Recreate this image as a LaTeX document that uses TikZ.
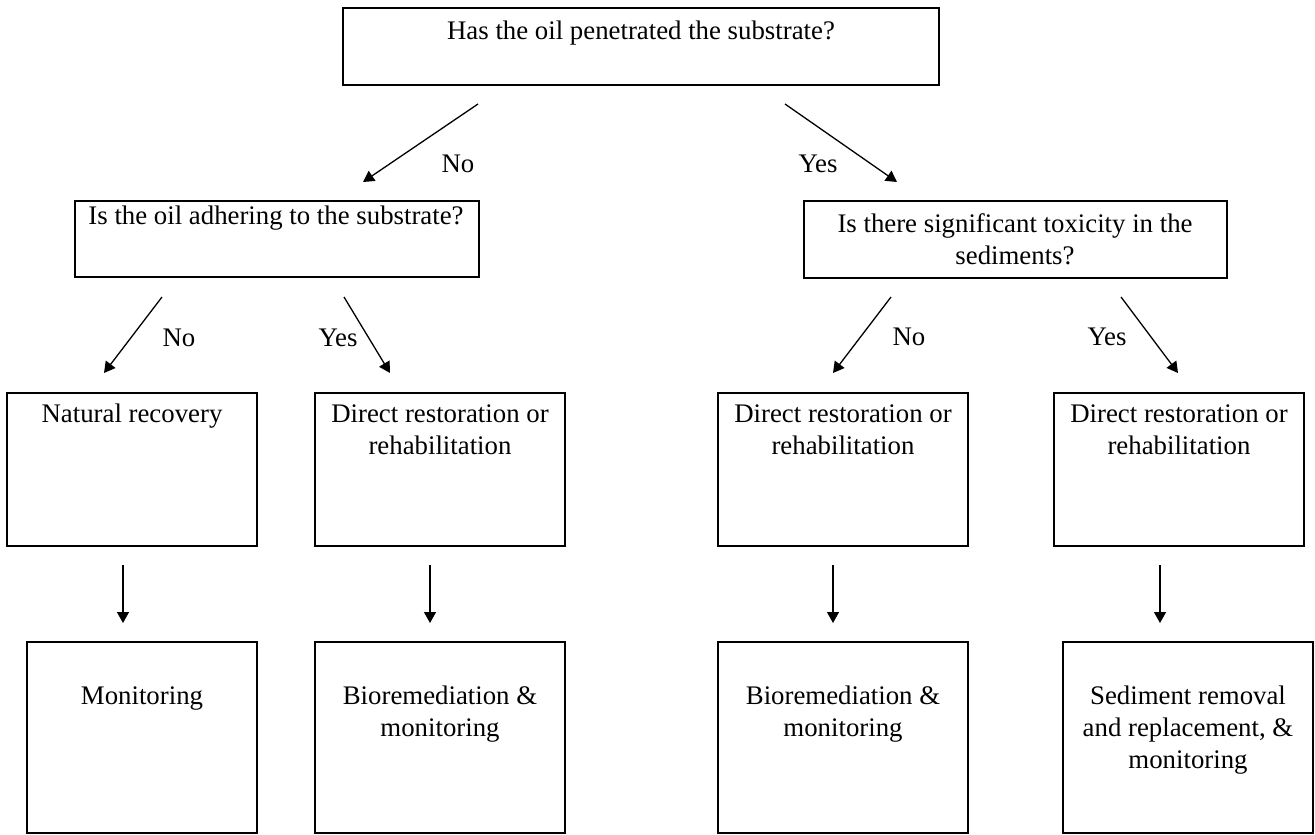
\documentclass[tikz,border=0pt]{standalone}
\usepackage{fontspec}
\setmainfont{Liberation Serif}
\usetikzlibrary{arrows.meta}
% fixed height for the first line, so a node's top edge sits 24pt above its first baseline
\newcommand\firstline{\rule{0pt}{24pt}}
\begin{document}
\begin{tikzpicture}[x=1pt,y=-1pt,
  box/.style={draw, line width=1.4pt, inner sep=0pt},
  txt/.style={inner sep=0pt, align=center, font=\fontsize{26.8}{32}\selectfont, anchor=north},
  flow/.style={line width=1.3pt, -{Triangle[length=11pt,width=12pt]}},
]
\useasboundingbox (0,0) rectangle (1315,835);

% question boxes
\node[box, minimum width=596pt, minimum height=77pt] (q1) at (641,46.5) {};
\node[box, minimum width=404pt, minimum height=76pt] (q2) at (277,239) {};
\node[box, minimum width=423pt, minimum height=77pt] (q3) at (1015.5,239.5) {};

% response boxes
\node[box, minimum width=250pt, minimum height=153pt] (r1) at (132,469.5) {};
\node[box, minimum width=250pt, minimum height=153pt] (r2) at (440,469.5) {};
\node[box, minimum width=250pt, minimum height=153pt] (r3) at (843,469.5) {};
\node[box, minimum width=250pt, minimum height=153pt] (r4) at (1179,469.5) {};

% follow-up boxes
\node[box, minimum width=230pt, minimum height=191pt] (s1) at (142,737.5) {};
\node[box, minimum width=250pt, minimum height=191pt] (s2) at (440,737.5) {};
\node[box, minimum width=250pt, minimum height=191pt] (s3) at (843,737.5) {};
\node[box, minimum width=250pt, minimum height=191pt] (s4) at (1188,737.5) {};

% box texts (y = first baseline - 24)
\node[txt] (q1t) at (641,15) {\firstline Has the oil penetrated the substrate?};
\node[txt] (q2t) at (276,200) {\firstline Is the oil adhering to the substrate?};
\node[txt] (q3t) at (1015,208) {\firstline Is there significant toxicity in the\\sediments?};
\node[txt] (r1t) at (132,398) {\firstline Natural recovery};
\node[txt] (r2t) at (440,398) {\firstline Direct restoration or\\rehabilitation};
\node[txt] (r3t) at (843,398) {\firstline Direct restoration or\\rehabilitation};
\node[txt] (r4t) at (1179,398) {\firstline Direct restoration or\\rehabilitation};
\node[txt] (s1t) at (142,680) {\firstline Monitoring};
\node[txt] (s2t) at (440,680) {\firstline Bioremediation \&\\monitoring};
\node[txt] (s3t) at (843,680) {\firstline Bioremediation \&\\monitoring};
\node[txt] (s4t) at (1188,680) {\firstline Sediment removal\\and replacement, \&\\monitoring};

% arrow end points
\coordinate (a1s) at (478,104);  \coordinate (a1e) at (363,182);
\coordinate (a2s) at (785,104);  \coordinate (a2e) at (897,182);
\coordinate (a3s) at (162,297);  \coordinate (a3e) at (104,373);
\coordinate (a4s) at (344,297);  \coordinate (a4e) at (390,373);
\coordinate (a5s) at (891,297);  \coordinate (a5e) at (833,373);
\coordinate (a6s) at (1121,297); \coordinate (a6e) at (1178,373);
\coordinate (v1s) at (123,565);  \coordinate (v1e) at (123,623);
\coordinate (v2s) at (430,565);  \coordinate (v2e) at (430,623);
\coordinate (v3s) at (833,565);  \coordinate (v3e) at (833,623);
\coordinate (v4s) at (1160,565); \coordinate (v4e) at (1160,623);

\draw[flow] (a1s) -- (a1e);
\draw[flow] (a2s) -- (a2e);
\draw[flow] (a3s) -- (a3e);
\draw[flow] (a4s) -- (a4e);
\draw[flow] (a5s) -- (a5e);
\draw[flow] (a6s) -- (a6e);
\draw[flow] (v1s) -- (v1e);
\draw[flow] (v2s) -- (v2e);
\draw[flow] (v3s) -- (v3e);
\draw[flow] (v4s) -- (v4e);

% branch labels
\node[txt] (l1) at (458,148) {\firstline No};
\node[txt] (l2) at (818,148) {\firstline Yes};
\node[txt] (l3) at (179,322) {\firstline No};
\node[txt] (l4) at (338,322) {\firstline Yes};
\node[txt] (l5) at (909,321) {\firstline No};
\node[txt] (l6) at (1107,321) {\firstline Yes};
\end{tikzpicture}
\end{document}
